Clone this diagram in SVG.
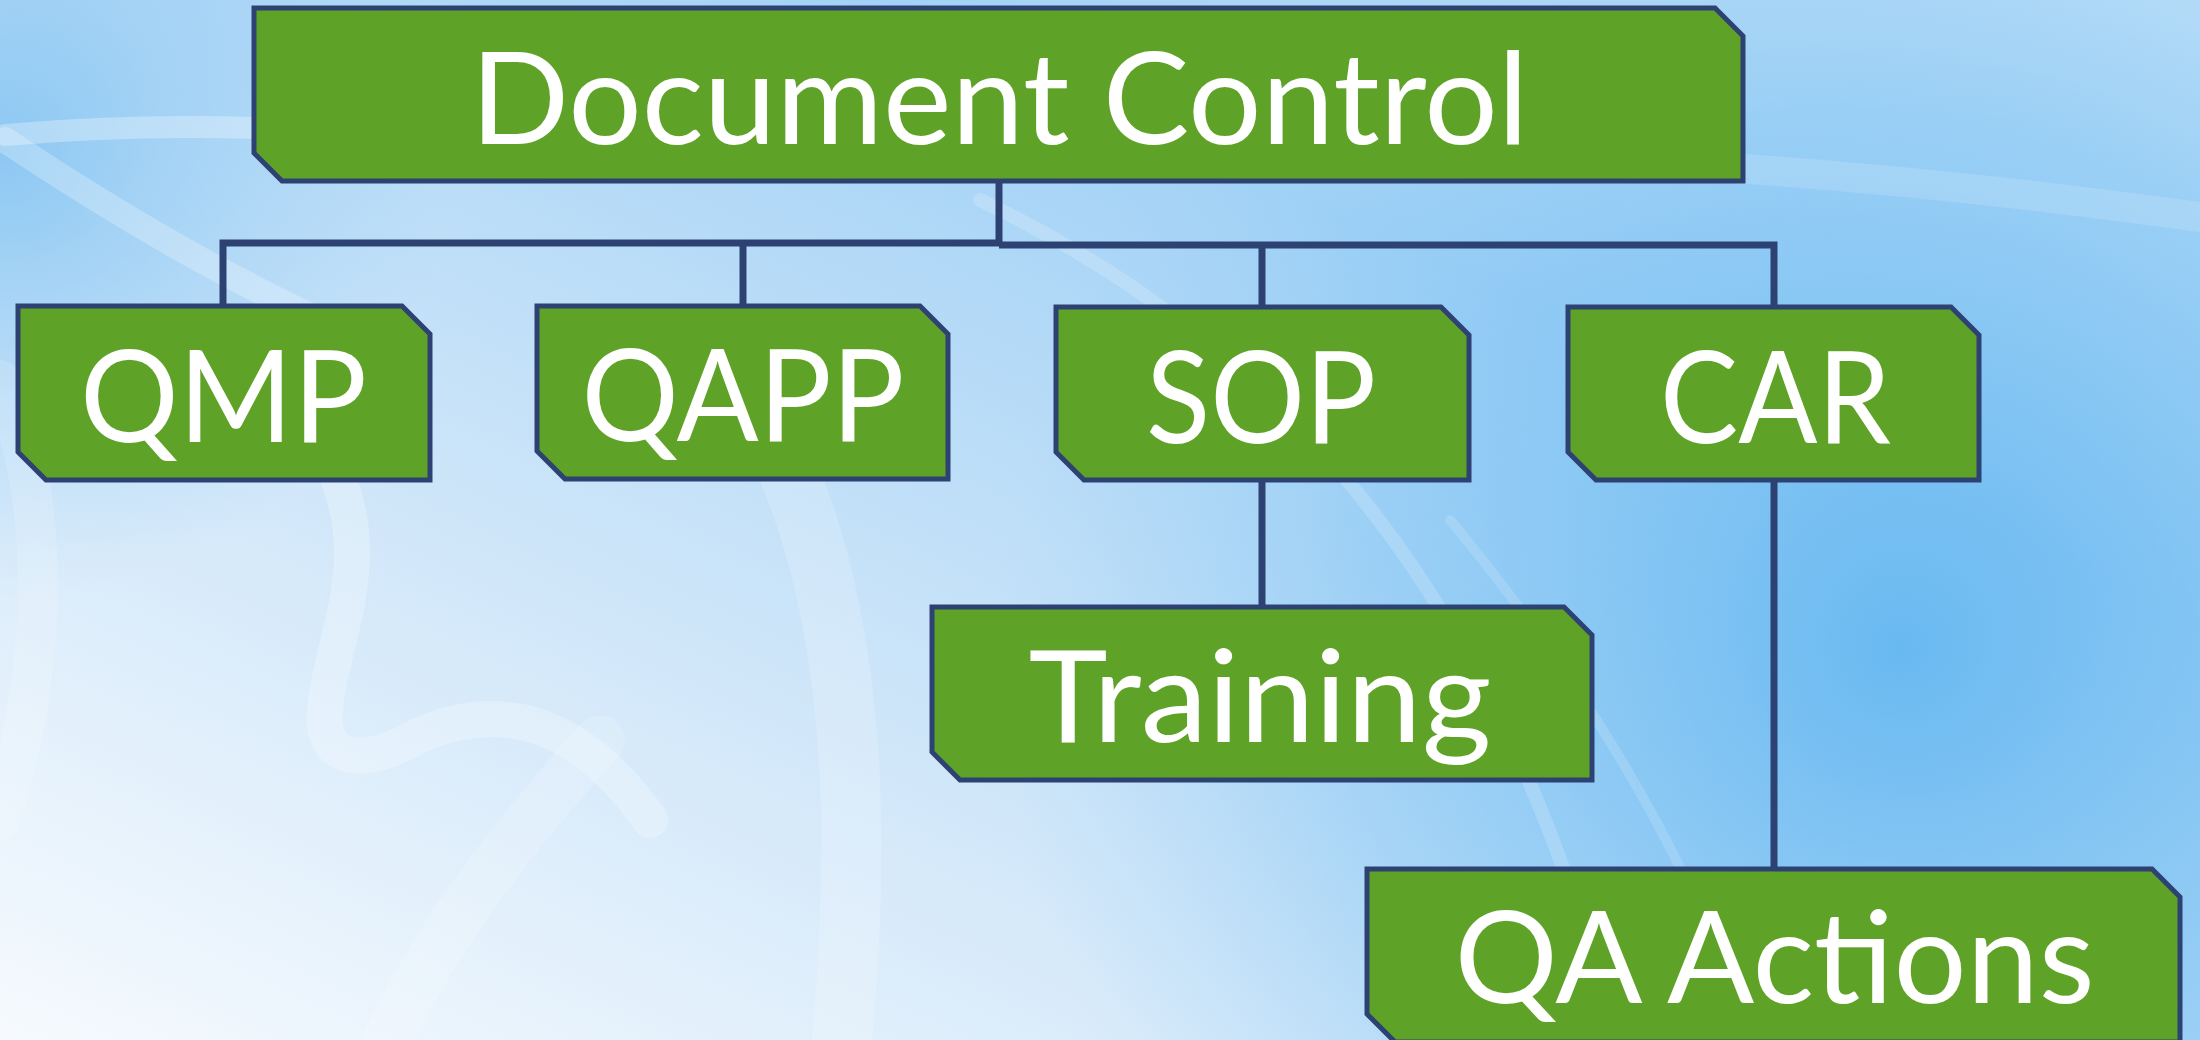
<svg xmlns="http://www.w3.org/2000/svg" width="2200" height="1040" viewBox="0 0 2200 1040">
  <defs>
    <linearGradient id="bg" x1="0" y1="1" x2="1" y2="0">
      <stop offset="0" stop-color="#F6FAFE"/>
      <stop offset="0.35" stop-color="#CFE6F9"/>
      <stop offset="0.7" stop-color="#A3D2F6"/>
      <stop offset="1" stop-color="#BFE0F8"/>
    </linearGradient>
    <radialGradient id="blueR" cx="1900" cy="650" r="900" gradientUnits="userSpaceOnUse">
      <stop offset="0" stop-color="#5DB4F0" stop-opacity="0.85"/>
      <stop offset="0.6" stop-color="#7CC2F3" stop-opacity="0.45"/>
      <stop offset="1" stop-color="#9ACFF5" stop-opacity="0"/>
    </radialGradient>
    <radialGradient id="blueTL" cx="0" cy="150" r="450" gradientUnits="userSpaceOnUse">
      <stop offset="0" stop-color="#7EC1F1" stop-opacity="0.8"/>
      <stop offset="1" stop-color="#9ACFF5" stop-opacity="0"/>
    </radialGradient>
    <style>
      .box { fill: #5FA228; stroke: #2D4273; stroke-width: 5; stroke-linejoin: miter; }
      .lbl { fill: #FFFFFF; font-family: Lato, "Open Sans", "Liberation Sans", sans-serif; font-size: 128px; text-anchor: middle; }
      .conn { fill: none; stroke: #2D4273; stroke-width: 7; stroke-linecap: butt; }
      .sw { fill: none; stroke: #FFFFFF; stroke-linecap: round; }
    </style>
  </defs>

  <g id="background">
    <rect x="0" y="0" width="2200" height="1040" fill="url(#bg)"/>
    <rect x="0" y="0" width="2200" height="1040" fill="url(#blueR)"/>
    <rect x="0" y="0" width="2200" height="1040" fill="url(#blueTL)"/>
    <path class="sw" d="M5,135 C120,125 260,122 430,140" stroke-width="22" stroke-opacity="0.3"/>
    <path class="sw" d="M5,140 C110,210 230,280 340,330" stroke-width="26" stroke-opacity="0.25"/>
    <path class="sw" d="M330,460 C380,560 330,640 325,710 C320,760 360,770 420,735 C500,700 580,720 650,820" stroke-width="36" stroke-opacity="0.25"/>
    <path class="sw" d="M760,410 C840,560 870,760 840,1060" stroke-width="60" stroke-opacity="0.18"/>
    <path class="sw" d="M0,380 C60,520 40,700 0,820" stroke-width="40" stroke-opacity="0.15"/>
    <path class="sw" d="M980,200 C1250,330 1500,560 1620,1060" stroke-width="14" stroke-opacity="0.18"/>
    <path class="sw" d="M1450,520 C1600,700 1700,880 1760,1060" stroke-width="10" stroke-opacity="0.15"/>
    <path class="sw" d="M1000,160 C1400,140 1800,160 2220,220" stroke-width="30" stroke-opacity="0.14"/>
    <path class="sw" d="M600,740 C500,850 420,960 380,1060" stroke-width="50" stroke-opacity="0.16"/>
  </g>

  <g id="connectors">
    <path class="conn" d="M999,181 V245"/>
    <path class="conn" d="M223,306 V243 H999"/>
    <path class="conn" d="M743,243 V306"/>
    <path class="conn" d="M999,245 H1774 V307"/>
    <path class="conn" d="M1262,245 V307"/>
    <path class="conn" d="M1262,480 V607"/>
    <path class="conn" d="M1774,480 V869"/>
  </g>

  <g id="node-document-control">
    <path class="box" d="M254,8 H1715 L1743,36 V181 H282 L254,153 Z"/>
    <text class="lbl" x="999.5" y="144" textLength="1058" lengthAdjust="spacingAndGlyphs">Document Control</text>
  </g>
  <g id="node-qmp">
    <path class="box" d="M18,306 H402 L430,334 V480 H46 L18,452 Z"/>
    <text class="lbl" x="223.5" y="442" textLength="287" lengthAdjust="spacingAndGlyphs">QMP</text>
  </g>
  <g id="node-qapp">
    <path class="box" d="M537,306 H920 L948,334 V479 H565 L537,451 Z"/>
    <text class="lbl" x="743" y="441" textLength="323" lengthAdjust="spacingAndGlyphs">QAPP</text>
  </g>
  <g id="node-sop">
    <path class="box" d="M1056,307 H1441 L1469,335 V480 H1084 L1056,452 Z"/>
    <text class="lbl" x="1261" y="443" textLength="230" lengthAdjust="spacingAndGlyphs">SOP</text>
  </g>
  <g id="node-car">
    <path class="box" d="M1568,307 H1951 L1979,335 V480 H1596 L1568,452 Z"/>
    <text class="lbl" x="1775.5" y="443" textLength="231" lengthAdjust="spacingAndGlyphs">CAR</text>
  </g>
  <g id="node-training">
    <path class="box" d="M932,607 H1564 L1592,635 V780 H960 L932,752 Z"/>
    <text class="lbl" x="1260" y="742" textLength="463" lengthAdjust="spacingAndGlyphs">Training</text>
  </g>
  <g id="node-qa-actions">
    <path class="box" d="M1367,869 H2152 L2180,897 V1042 H1395 L1367,1014 Z"/>
    <text class="lbl" x="1774.5" y="1003" textLength="640" lengthAdjust="spacingAndGlyphs">QA Actions</text>
  </g>
</svg>
